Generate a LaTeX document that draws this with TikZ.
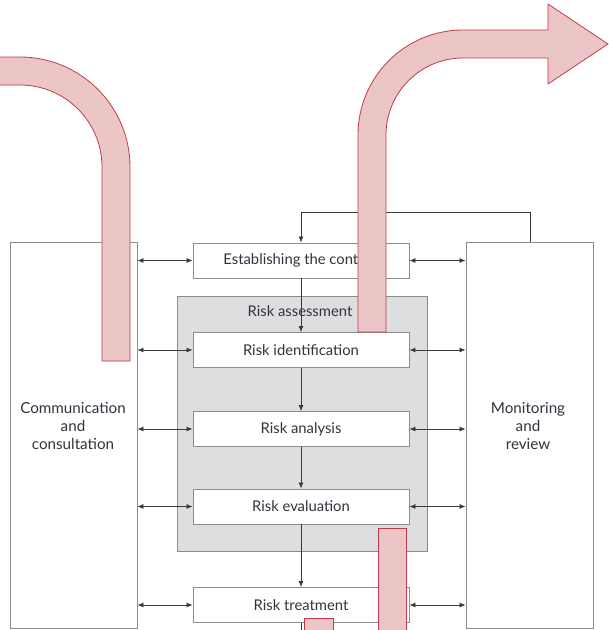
\documentclass[tikz,border=0pt]{standalone}
\usepackage{fontspec}
\setmainfont{Lato}
\usetikzlibrary{arrows.meta,calc}
\definecolor{boxline}{HTML}{8C8C8C}
\definecolor{txt}{HTML}{33333F}
\definecolor{panel}{HTML}{DDDEE0}
\definecolor{flowfill}{HTML}{ECC6C7}
\definecolor{flowline}{HTML}{C0394A}
\definecolor{link}{HTML}{3A3A3A}
\tikzset{
  stagebox/.style={draw=boxline, line width=0.9pt, fill=white, minimum width=216pt, minimum height=35pt, inner sep=0pt, text=txt, font=\fontsize{14.8}{17}\selectfont},
  sidebox/.style={draw=boxline, line width=0.9pt, fill=white, minimum width=127pt, minimum height=386pt, inner sep=0pt},
  sidetext/.style={text=txt, align=center, font=\fontsize{15.2}{18}\selectfont},
  link/.style={draw=link, line width=0.7pt},
  arr/.style={link, -{Latex[length=6pt,width=5pt]}},
  dbl/.style={link, {Latex[length=6pt,width=5pt]}-{Latex[length=6pt,width=5pt]}},
  flow/.style={fill=flowfill, draw=flowline, line width=0.8pt, line join=miter}
}
\begin{document}
\begin{tikzpicture}[x=1pt,y=-1pt]
\useasboundingbox (0,0) rectangle (609,630);

% risk assessment panel
\node[draw=boxline, line width=0.9pt, fill=panel, minimum width=250pt, minimum height=255pt, inner sep=0pt] (panel) at (302,423.5) {};
\node[text=txt, font=\fontsize{14.8}{17}\selectfont] (panellabel) at (300,311) {Risk assessment};

% side columns
\node[sidebox] (comm) at (73.5,435) {};
\node[sidetext] (commtext) at (73,426) {Communication\\and\\consultation};
\node[sidebox] (mon) at (529.5,435) {};
\node[sidetext] (montext) at (528,426) {Monitoring\\and\\review};

% process stages
\node[stagebox] (est) at (301,260.5) {Establishing the context};
\node[stagebox] (rid) at (301,350) {Risk identification};
\node[stagebox] (ran) at (301,429) {Risk analysis};
\node[stagebox] (rev) at (301,506.5) {Risk evaluation};
\node[stagebox] (rtr) at (301,605) {Risk treatment};

% flow down the stages
\draw[arr] (est) -- (rid);
\draw[arr] (rid) -- (ran);
\draw[arr] (ran) -- (rev);
\draw[arr] (rev) -- (rtr);
\coordinate (tail) at (301,630);
\draw[link] (rtr) -- (tail);

% feedback from monitoring to context
\coordinate (fb) at (530,212);
\draw[arr] (mon.north -| fb) -- (fb) -| (est.north);

% two-way links to the side columns
\foreach \s in {est,rid,ran,rev,rtr}{
  \draw[dbl] (comm.east |- \s.west) -- (\s.west);
  \draw[dbl] (\s.east) -- (mon.west |- \s.east);
}

% incoming band on the left
\fill[flowfill] (0,57) -- (20,57) .. controls (80.7,57) and (130,106.3) .. (130,167) -- (130,361) -- (102,361) -- (102,167) .. controls (102,121.7) and (65.3,85) .. (20,85) -- (0,85) -- cycle;
\draw[flowline, line width=0.8pt] (0,57) -- (20,57) .. controls (80.7,57) and (130,106.3) .. (130,167) -- (130,361) -- (102,361) -- (102,167) .. controls (102,121.7) and (65.3,85) .. (20,85) -- (0,85);

% outgoing arrow on the right
\draw[flow] (358,332) -- (358,135) .. controls (358,77) and (405,30) .. (463,30) -- (548,30) -- (548,4) -- (608,44) -- (548,84) -- (548,58) -- (463,58) .. controls (420.5,58) and (386,92.5) .. (386,135) -- (386,332) -- cycle;

% bands leaving at the bottom
\fill[flowfill] (378,528) rectangle (406,630);
\draw[flowline, line width=0.8pt] (378,631) -- (378,528) -- (406,528) -- (406,631);
\fill[flowfill] (304,618) rectangle (333,630);
\draw[flowline, line width=0.8pt] (304,631) -- (304,618) -- (333,618) -- (333,631);
\end{tikzpicture}
\end{document}
